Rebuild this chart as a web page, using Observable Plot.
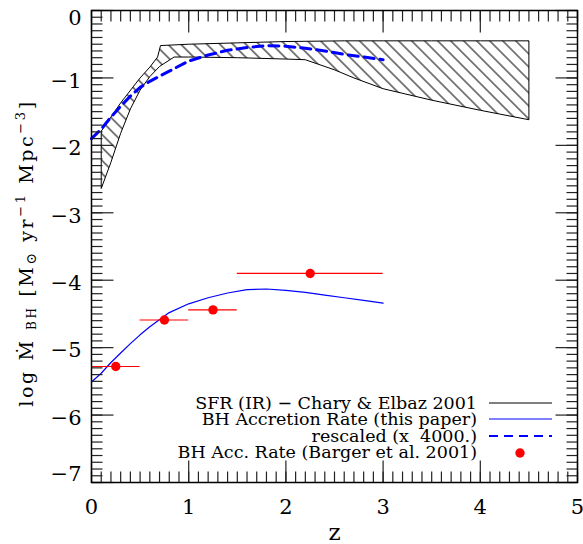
<!DOCTYPE html>
<html><head><meta charset="utf-8">
<script src="https://cdn.jsdelivr.net/npm/d3@7"></script>
<script src="https://cdn.jsdelivr.net/npm/@observablehq/plot@0.6"></script>
<style>body{margin:0;background:#fff}</style>
</head><body><div id="chart"></div>
<script>
// ---- data ----
// SFR (IR) band, Chary & Elbaz 2001: upper and lower boundaries
const sfrUpperZ = [0.1, 0.3, 0.5, 0.6, 0.68, 0.71, 1.0, 1.5, 2.0, 2.6, 3.0, 3.5, 4.0, 4.5];
const sfrUpperY = [-1.79, -1.37, -1.00, -0.84, -0.69, -0.52, -0.50, -0.48, -0.46, -0.45, -0.45, -0.45, -0.45, -0.45];
const sfrLowerZ = [0.1, 0.2, 0.3, 0.4, 0.5, 0.6, 0.7, 0.85, 1.0, 1.5, 2.0, 2.2, 2.5, 2.7, 3.0, 3.5, 4.0, 4.5];
const sfrLowerY = [-2.64, -2.25, -1.82, -1.46, -1.18, -0.98, -0.83, -0.69, -0.69, -0.70, -0.72, -0.73, -0.88, -1.00, -1.16, -1.33, -1.48, -1.62];
// BH accretion rate (this paper)
const bhZ = [0, 0.1, 0.2, 0.3, 0.4, 0.5, 0.6, 0.8, 1.0, 1.2, 1.4, 1.6, 1.8, 2.0, 2.2, 2.4, 2.6, 2.8, 3.0];
const bhY = [-5.51, -5.38, -5.22, -5.08, -4.94, -4.81, -4.69, -4.48, -4.35, -4.26, -4.19, -4.14, -4.13, -4.15, -4.18, -4.22, -4.26, -4.30, -4.34];
// rescaled (x 4000.)
const rescZ = [0, 0.1, 0.2, 0.3, 0.4, 0.5, 0.6, 0.8, 1.0, 1.2, 1.4, 1.6, 1.8, 2.0, 2.2, 2.4, 2.6, 2.8, 3.0];
const rescY = [-1.90, -1.76, -1.58, -1.42, -1.27, -1.14, -1.05, -0.90, -0.75, -0.66, -0.59, -0.55, -0.52, -0.53, -0.56, -0.60, -0.65, -0.69, -0.73];
// Barger et al. 2001 points with z-bin extents
const bargerZ = [0.25, 0.75, 1.25, 2.25];
const bargerY = [-5.28, -4.59, -4.44, -3.90];
const bargerLo = [0.0, 0.5, 1.0, 1.5];
const bargerHi = [0.5, 1.0, 1.5, 3.0];
// ticks
const xMajor = [0, 1, 2, 3, 4, 5];
const yMajor = [0, -1, -2, -3, -4, -5, -6, -7];
const xMinor = d3.range(0, 50.5, 1).map(d => d / 10);
const yMinor = d3.range(-70, 0.5, 1).map(d => d / 10);
const legendLabels = ["SFR (IR) \u2212 Chary & Elbaz 2001", "BH Accretion Rate (this paper)", "rescaled (x  4000.)", "BH Acc. Rate (Barger et al. 2001)"];

// ---- tables built from arrays ----
const polygon = [
  ...sfrUpperZ.map((z, i) => ({z, y: sfrUpperY[i]})),
  ...sfrLowerZ.map((z, i) => ({z, y: sfrLowerY[i]})).reverse(),
  {z: sfrUpperZ[0], y: sfrUpperY[0]}
];
const bh = bhZ.map((z, i) => ({z, y: bhY[i]}));
const resc = rescZ.map((z, i) => ({z, y: rescY[i]}));
const barger = bargerZ.map((z, i) => ({z, y: bargerY[i], lo: bargerLo[i], hi: bargerHi[i]}));

const FONT = "DejaVu Serif";
const W = 583, H = 544, ML = 91, MR = 6, MT = 10, MB = 62;
const XD = [0, 5], YD = [-7, 0];
// tick lengths in pixels, converted to data units through the frame size
const MAJ = 22, MIN = 11;
const pxX = (XD[1] - XD[0]) / (W - ML - MR);
const pxY = (YD[1] - YD[0]) / (H - MT - MB);

function hatchDefs() {
  const d = d3.create("svg:defs");
  const p = d.append("pattern").attr("id", "hatch").attr("patternUnits", "userSpaceOnUse")
    .attr("width", 20).attr("height", 9.2).attr("patternTransform", "rotate(45)");
  p.append("line").attr("x1", 0).attr("x2", 20).attr("y1", 4.6).attr("y2", 4.6)
    .attr("stroke", "black").attr("stroke-width", 1);
  return d.node();
}

function yLabel(index, scales, values, dim) {
  const t = d3.create("svg:text")
    .attr("transform", `translate(33,253) rotate(-90)`)
    .attr("text-anchor", "middle")
    .attr("font-family", FONT).attr("font-size", 19).attr("fill", "black")
    .attr("letter-spacing", 2.6)
    .style("white-space", "pre");
  t.append("tspan").text("log \u1E40 ");
  t.append("tspan").attr("font-size", 12).attr("dy", 3).text("BH");
  t.append("tspan").attr("dy", -3).text(" [M");
  t.append("tspan").attr("font-size", 14).attr("dy", 3).text("\u2299");
  t.append("tspan").attr("dy", -3).text(" yr");
  t.append("tspan").attr("font-size", 13).attr("dy", -8).text("\u22121");
  t.append("tspan").attr("dy", 8).text(" Mpc");
  t.append("tspan").attr("font-size", 13).attr("dy", -8).text("\u22123");
  t.append("tspan").attr("dy", 8).text("]");
  return t.node();
}

function legend(index, scales, values, dim) {
  const right = dim.width - dim.marginRight;
  const bottom = dim.height - dim.marginBottom;
  const g = d3.create("svg:g").attr("font-family", FONT).attr("font-size", 17.5);
  const rows = [-79, -63, -46, -30];
  const tx = right - 100, l1 = right - 88, l2 = right - 25;
  legendLabels.forEach((lab, i) => {
    const y = bottom + rows[i];
    g.append("text").attr("x", tx).attr("y", y).attr("dy", "0.35em")
      .attr("text-anchor", "end").style("white-space", "pre").attr("fill", "black").text(lab);
  });
  g.append("line").attr("x1", l1).attr("x2", l2).attr("y1", bottom + rows[0]).attr("y2", bottom + rows[0])
    .attr("stroke", "black").attr("stroke-width", 1.2);
  g.append("line").attr("x1", l1).attr("x2", l2).attr("y1", bottom + rows[1]).attr("y2", bottom + rows[1])
    .attr("stroke", "#00f").attr("stroke-width", 1.2);
  g.append("line").attr("x1", l1).attr("x2", l2).attr("y1", bottom + rows[2]).attr("y2", bottom + rows[2])
    .attr("stroke", "#00f").attr("stroke-width", 2).attr("stroke-dasharray", "9,6");
  g.append("circle").attr("cx", right - 57).attr("cy", bottom + rows[3] + 1).attr("r", 4.7).attr("fill", "#f00");
  return g.node();
}

const fmt = d => d < 0 ? "\u2212" + Math.abs(d) : String(d);
const tickStyle = {stroke: "#222", strokeWidth: 1.2};
const xTicks = (vals, len) => [
  Plot.link(vals, {x1: d => d, x2: d => d, y1: YD[0], y2: YD[0] + len * pxY, ...tickStyle}),
  Plot.link(vals, {x1: d => d, x2: d => d, y1: YD[1], y2: YD[1] - len * pxY, ...tickStyle})
];
const yTicks = (vals, len) => [
  Plot.link(vals, {y1: d => d, y2: d => d, x1: XD[0], x2: XD[0] + len * pxX, ...tickStyle}),
  Plot.link(vals, {y1: d => d, y2: d => d, x1: XD[1], x2: XD[1] - len * pxX, ...tickStyle})
];

const plot = Plot.plot({
  width: W, height: H,
  marginLeft: ML, marginRight: MR, marginTop: MT, marginBottom: MB,
  style: {fontFamily: FONT, background: "white", color: "black"},
  x: {domain: XD, label: null},
  y: {domain: YD, label: null},
  marks: [
    hatchDefs,
    Plot.line(polygon, {x: "z", y: "y", fill: "url(#hatch)", stroke: "black", strokeWidth: 1, curve: "linear"}),
    Plot.line(resc, {x: "z", y: "y", stroke: "#00f", strokeWidth: 3, strokeDasharray: "10,6"}),
    Plot.line(bh, {x: "z", y: "y", stroke: "#00f", strokeWidth: 1.2}),
    Plot.ruleY(barger, {y: "y", x1: "lo", x2: "hi", stroke: "#f00", strokeWidth: 1.2}),
    Plot.dot(barger, {x: "z", y: "y", r: 4.7, fill: "#f00"}),
    ...xTicks(xMinor, MIN), ...xTicks(xMajor, MAJ),
    ...yTicks(yMinor, MIN), ...yTicks(yMajor, MAJ),
    Plot.axisX({ticks: xMajor, tickSize: 0, tickPadding: 17, fontSize: 21, tickFormat: d => String(d), label: null}),
    Plot.axisY({ticks: yMajor.slice(1, -1), tickSize: 0, tickPadding: 10, fontSize: 21, dy: 3, tickFormat: fmt, label: null}),
    Plot.axisY({ticks: [0], tickSize: 0, tickPadding: 10, fontSize: 21, dy: 8, tickFormat: fmt, label: null}),
    Plot.axisY({ticks: [-7], tickSize: 0, tickPadding: 10, fontSize: 21, dy: -8, tickFormat: fmt, label: null}),
    Plot.text(["z"], {frameAnchor: "bottom", dy: 50, fontSize: 23, text: d => d, lineAnchor: "middle"}),
    yLabel,
    legend,
    Plot.frame({stroke: "black", strokeWidth: 1.5})
  ]
});
document.getElementById("chart").appendChild(plot);
</script>
</body></html>
